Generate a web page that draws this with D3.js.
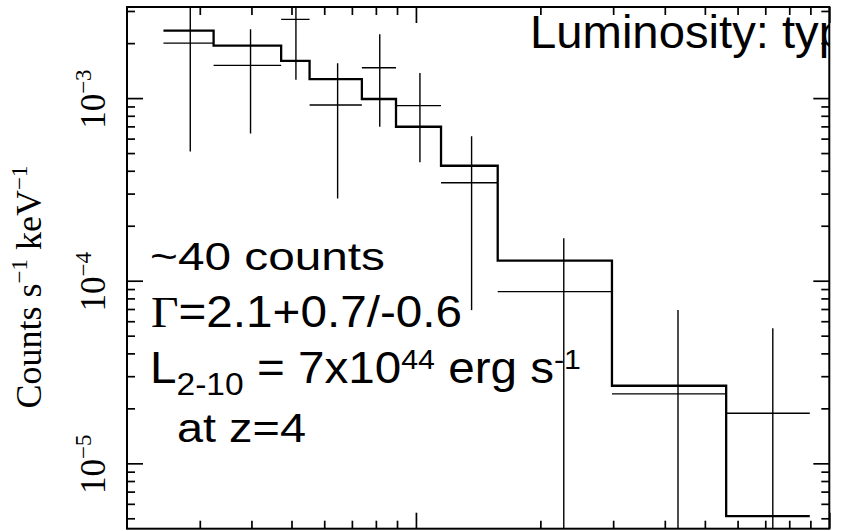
<!DOCTYPE html>
<html><head><meta charset="utf-8">
<script src="https://cdn.jsdelivr.net/npm/d3@7"></script>
<style>body{margin:0;background:#fff} svg{display:block}</style>
</head><body>
<svg id="c" width="845" height="531"></svg>
<script>
// ---- data ----
const binLo = [0.245, 0.324, 0.472, 0.553, 0.740, 0.895, 1.150, 1.577, 2.98, 5.63];
const binHi = [0.324, 0.472, 0.553, 0.740, 0.895, 1.150, 1.577, 2.98, 5.63, 8.97];
const dataRate = [2.00e-3, 1.51e-3, 2.70e-3, 9.17e-4, 1.467e-3, 9.09e-4, 3.44e-4, 8.71e-5, 2.40e-5, 1.88e-5];
const dataErr  = [1.49e-3, 8.70e-4, 1.44e-3, 6.35e-4, 7.70e-4, 4.64e-4, 2.75e-4, 8.35e-5, 4.51e-5, 3.61e-5];
const modelRate = [2.34e-3, 1.94e-3, 1.60e-3, 1.27e-3, 9.89e-4, 6.97e-4, 4.26e-4, 1.287e-4, 2.66e-5, 5.14e-6];
const xMajorTicks = [1, 10];
const xMinorTicks = [0.3, 0.4, 0.5, 0.6, 0.7, 0.8, 0.9, 2, 3, 4, 5, 6, 7, 8, 9];
const yMajorTicks = [1e-3, 1e-4, 1e-5];
const yMinorTicks = [2e-3, 3e-3, 2e-4, 3e-4, 4e-4, 5e-4, 6e-4, 7e-4, 8e-4, 9e-4,
                     2e-5, 3e-5, 4e-5, 5e-5, 6e-5, 7e-5, 8e-5, 9e-5, 5e-6, 6e-6, 7e-6, 8e-6, 9e-6];
const yTickBase = ["10", "10", "10"];
const yTickExp = ["\u22123", "\u22124", "\u22125"];

// ---- layout ----
const L = 127, T = 7, R = 829.3, B = 528.7;
const sans = "'Liberation Sans', Arial, Helvetica, sans-serif";
const serif = "'Liberation Serif', 'Times New Roman', Times, serif";

const svg = d3.select("#c");
const x = d3.scaleLog().domain([0.2, 10]).range([L, R]);
const y = d3.scaleLog().domain([4.385e-6, 3.154e-3]).range([B, T]);

svg.append("defs").append("clipPath").attr("id", "plot")
  .append("rect").attr("x", L).attr("y", T).attr("width", R - L).attr("height", B - T);
svg.select("defs").append("clipPath").attr("id", "titleclip")
  .append("rect").attr("x", 0).attr("y", 0).attr("width", R).attr("height", 531);

// axes (ticks inward on all four sides)
function styleAxis(g) {
  g.select(".domain").remove();
  g.selectAll(".tick line").attr("stroke", "#000").attr("stroke-width", 1.7);
}
const mk = (axis, vals, size, tr) => svg.append("g").attr("transform", tr)
  .call(axis.tickValues(vals).tickSize(size).tickSizeOuter(0).tickFormat(""))
  .call(styleAxis);
mk(d3.axisBottom(x), xMinorTicks, -8, `translate(0,${B})`);
mk(d3.axisBottom(x), xMajorTicks, -16, `translate(0,${B})`);
mk(d3.axisTop(x), xMinorTicks, -8, `translate(0,${T})`);
mk(d3.axisTop(x), xMajorTicks, -16, `translate(0,${T})`);
mk(d3.axisLeft(y), yMinorTicks, -8, `translate(${L},0)`);
mk(d3.axisLeft(y), yMajorTicks, -16, `translate(${L},0)`);
mk(d3.axisRight(y), yMinorTicks, -8, `translate(${R},0)`);
mk(d3.axisRight(y), yMajorTicks, -16, `translate(${R},0)`);

// frame
svg.append("rect").attr("x", L).attr("y", T).attr("width", R - L).attr("height", B - T)
  .attr("fill", "none").attr("stroke", "#000").attr("stroke-width", 2);

// y tick labels (rotated, serif)
yMajorTicks.forEach((v, i) => {
  const t = svg.append("text")
    .attr("transform", `translate(105,${y(v) + 1}) rotate(-90)`)
    .attr("text-anchor", "middle").attr("font-family", serif).attr("font-size", 35);
  t.append("tspan").text(yTickBase[i]);
  t.append("tspan").attr("dy", -14).attr("font-size", 23).text(yTickExp[i]);
});

// y axis label
{
  const t = svg.append("text")
    .attr("transform", `translate(41,287) rotate(-90)`)
    .attr("text-anchor", "middle").attr("font-family", serif).attr("font-size", 36);
  t.append("tspan").text("Counts s");
  t.append("tspan").attr("dy", -14).attr("font-size", 23).text("\u22121");
  t.append("tspan").attr("dy", 14).text(" keV");
  t.append("tspan").attr("dy", -14).attr("font-size", 23).text("\u22121");
}

// plot content
const plot = svg.append("g").attr("clip-path", "url(#plot)");
const idx = d3.range(binLo.length);

// model step line
const stepPts = idx.map(i => [binLo[i], modelRate[i]]);
stepPts.push([binHi[binHi.length - 1], modelRate[modelRate.length - 1]]);
plot.append("path")
  .attr("d", d3.line().x(d => x(d[0])).y(d => y(d[1])).curve(d3.curveStepAfter)(stepPts))
  .attr("fill", "none").attr("stroke", "#000").attr("stroke-width", 2.3);

// data crosses
const yMin = y.domain()[0];
idx.forEach(i => {
  const xc = (binLo[i] + binHi[i]) / 2;
  plot.append("line")
    .attr("x1", x(binLo[i])).attr("x2", x(binHi[i]))
    .attr("y1", y(dataRate[i])).attr("y2", y(dataRate[i]))
    .attr("stroke", "#000").attr("stroke-width", 1.4);
  const lo = Math.max(dataRate[i] - dataErr[i], yMin / 2);
  plot.append("line")
    .attr("x1", x(xc)).attr("x2", x(xc))
    .attr("y1", y(dataRate[i] + dataErr[i])).attr("y2", y(lo))
    .attr("stroke", "#000").attr("stroke-width", 1.4);
});

// title (clipped at the right frame, as in the reference)
svg.append("text").attr("clip-path", "url(#titleclip)")
  .attr("x", 530).attr("y", 48).attr("font-family", sans).attr("font-size", 47)
  .attr("textLength", 315).attr("lengthAdjust", "spacingAndGlyphs")
  .text("Luminosity: typ");

// annotation block
svg.append("text").attr("x", 150).attr("y", 270).attr("font-family", sans).attr("font-size", 39)
  .attr("textLength", 235).attr("lengthAdjust", "spacingAndGlyphs").text("~40 counts");
{
  const t = svg.append("text").attr("x", 151).attr("y", 327).attr("font-size", 44)
    .attr("textLength", 311).attr("lengthAdjust", "spacingAndGlyphs");
  t.append("tspan").attr("font-family", serif).text("\u0393");
  t.append("tspan").attr("font-family", sans).text("=2.1+0.7/-0.6");
}
{
  const t = svg.append("text").attr("x", 150).attr("y", 383).attr("font-family", sans).attr("font-size", 44)
    .attr("textLength", 431).attr("lengthAdjust", "spacingAndGlyphs");
  t.append("tspan").text("L");
  t.append("tspan").attr("dy", 12).attr("font-size", 31).text("2-10");
  t.append("tspan").attr("dy", -12).text(" = 7x10");
  t.append("tspan").attr("dy", -14).attr("font-size", 28).text("44");
  t.append("tspan").attr("dy", 14).text(" erg s");
  t.append("tspan").attr("dy", -14).attr("font-size", 28).text("-1");
}
svg.append("text").attr("x", 177).attr("y", 442).attr("font-family", sans).attr("font-size", 40)
  .attr("textLength", 129).attr("lengthAdjust", "spacingAndGlyphs").text("at z=4");
</script>
</body></html>
